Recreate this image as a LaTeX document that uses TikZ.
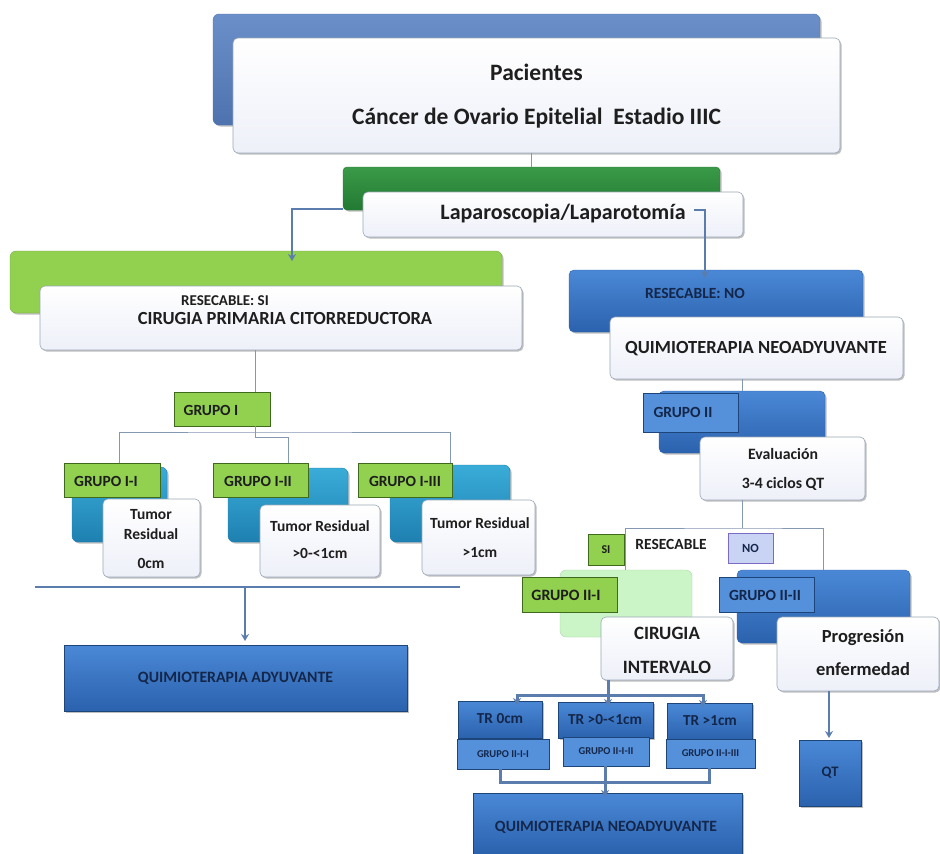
\documentclass[tikz,border=0pt]{standalone}
\usepackage{fontspec}
\setmainfont{Carlito}
\usetikzlibrary{arrows.meta,shadows,calc}
\definecolor{topT}{HTML}{6B90C9}
\definecolor{topB}{HTML}{4D72AD}
\definecolor{blT}{HTML}{4A88D6}
\definecolor{blB}{HTML}{2B62AE}
\definecolor{blL}{HTML}{5590DA}
\definecolor{grT}{HTML}{3A9A48}
\definecolor{grB}{HTML}{237A33}
\definecolor{lime}{HTML}{92D050}
\definecolor{limeD}{HTML}{3F6A1E}
\definecolor{tealT}{HTML}{3AACD8}
\definecolor{tealB}{HTML}{1E80B0}
\definecolor{lgreen}{HTML}{CBF5C6}
\definecolor{wbord}{HTML}{9AA8B8}
\definecolor{wB}{HTML}{EEF0F9}
\definecolor{lav}{HTML}{C9D3F3}
\definecolor{lavD}{HTML}{7A6BC6}
\definecolor{conn}{HTML}{5A7DAD}
\definecolor{tree}{HTML}{8598B2}
\definecolor{navy}{HTML}{14274A}
\definecolor{ink}{HTML}{1E1E1E}
\newcommand\fsz[2]{\fontsize{#1}{#2}\selectfont}
\tikzset{
 base/.style={rectangle, anchor=north west, inner sep=0pt, outer sep=0pt},
 shd/.style={drop shadow={shadow xshift=1.5pt, shadow yshift=-1.5pt, opacity=0.25, fill=black}},
 topbk/.style={base, rounded corners=6pt, top color=topT, bottom color=topB, draw=topB, shd},
 whitebx/.style={base, rounded corners=5pt, top color=white, bottom color=wB, draw=wbord, line width=0.6pt, shd},
 greenbk/.style={base, rounded corners=4pt, top color=grT, bottom color=grB, draw=grB, shd},
 limebk/.style={base, rounded corners=6pt, fill=lime, draw=lime!80!black, line width=0.3pt, shd},
 limetag/.style={base, fill=lime, draw=limeD, line width=0.8pt},
 tealbk/.style={base, rounded corners=6pt, top color=tealT, bottom color=tealB, draw=tealB, shd},
 bluebk/.style={base, rounded corners=5pt, top color=blT, bottom color=blB, draw=blB, shd},
 blueflat/.style={base, top color=blT, bottom color=blB, draw=blB!70!black, shd},
 bluetag/.style={base, fill=blL, draw=blB!70!black, line width=0.6pt},
 lgbk/.style={base, rounded corners=6pt, fill=lgreen, draw=lgreen!85!black, line width=0.3pt},
 lavtag/.style={base, fill=lav, draw=lavD, line width=0.8pt},
 txt/.style={inner sep=0pt, text=ink, font=\bfseries},
 ntxt/.style={inner sep=0pt, text=navy, font=\bfseries},
 tline/.style={draw=tree, line width=0.7pt},
 cline/.style={draw=conn, line width=2pt},
 carrow/.style={cline, -{Stealth[length=7pt,width=8pt]}},
}
\begin{document}
\begin{tikzpicture}[x=1pt,y=-1pt]
\useasboundingbox (0,0) rectangle (940,854);
\fill[white] (0,0) rectangle (940,854);

% ---------- top ----------
\node[topbk, minimum width=607pt, minimum height=111pt] (topback) at (213,14) {};
\node[whitebx, minimum width=607pt, minimum height=115pt] (top) at (233,38) {};
\node[txt, font=\fsz{23.5}{44}\bfseries, align=center] (tTop) at ($(top.center)+(0,1)$) {Pacientes\\Cáncer de Ovario Epitelial~ Estadio IIIC};

% ---------- laparoscopia ----------
\node[greenbk, minimum width=377pt, minimum height=43pt] (lapback) at (343,167) {};
\node[whitebx, minimum width=380pt, minimum height=45pt] (lap) at (363,192) {};
\node[txt, font=\fsz{22}{26}\bfseries] (tLap) at (563,214) {Laparoscopia/Laparotomía};
\draw[tline] (top.south -| lapback.north) -- (lapback.north);

% ---------- left branch ----------
\node[limebk, minimum width=492pt, minimum height=62pt] (resiback) at (10,251) {};
\node[whitebx, minimum width=482pt, minimum height=64pt] (resi) at (40,286) {};
\node[txt, font=\fsz{15}{18}\bfseries] (tResSi) at (225,301) {RESECABLE: SI};
\node[txt, font=\fsz{18.5}{22}\bfseries] (tCPC) at (285,318) {CIRUGIA PRIMARIA CITORREDUCTORA};

\coordinate (lapL) at ($(lapback.south west)+(0,-1)$);
\coordinate (resiIn) at ($(resiback.north west)+(282,10)$);
\draw[carrow] (lapL) -| (resiIn);

\node[limetag, minimum width=96pt, minimum height=34pt] (gI) at (174,392) {};
\node[txt, font=\fsz{15.5}{18}\bfseries] (tgI) at (211,410) {GRUPO I};
\coordinate (gIin) at ($(gI.north west)+(81,0)$);
\coordinate (gIout) at ($(gI.south west)+(81,0)$);
\draw[tline] (resi.south -| gIin) -- (gIin);

% subgroups
\node[tealbk, minimum width=95pt, minimum height=75pt] (te1) at (72,467) {};
\node[tealbk, minimum width=120pt, minimum height=74pt] (te2) at (228,468) {};
\node[tealbk, minimum width=120pt, minimum height=77pt] (te3) at (390,465) {};
\node[limetag, minimum width=96pt, minimum height=34pt] (gI1) at (64,463) {};
\node[limetag, minimum width=95pt, minimum height=34pt] (gI2) at (213,463) {};
\node[limetag, minimum width=94pt, minimum height=34pt] (gI3) at (358,463) {};
\node[txt, font=\fsz{15.5}{18}\bfseries] (tgI1) at (106,481) {GRUPO I-I};
\node[txt, font=\fsz{15.5}{18}\bfseries] (tgI2) at (258,481) {GRUPO I-II};
\node[txt, font=\fsz{15.5}{18}\bfseries] (tgI3) at (405,481) {GRUPO I-III};
\node[whitebx, minimum width=97pt, minimum height=78pt] (w1) at (103,499) {};
\node[whitebx, minimum width=120pt, minimum height=72pt] (w2) at (260,505) {};
\node[whitebx, minimum width=113pt, minimum height=75pt] (w3) at (422,500) {};
\node[txt, font=\fsz{15.5}{20}\bfseries, align=center] (tw1) at (151,539) {Tumor\\Residual\\[9pt]0cm};
\node[txt, font=\fsz{15.5}{27}\bfseries, align=center] (tw2) at (320,540) {Tumor Residual\\>0-<1cm};
\node[txt, font=\fsz{15.5}{29}\bfseries, align=center] (tw3) at (480,538) {Tumor Residual\\>1cm};

\coordinate (gI1in) at ($(gI1.north west)+(55,0)$);
\coordinate (gI2in) at ($(gI2.north west)+(75,0)$);
\coordinate (gI3in) at ($(gI3.north west)+(92,0)$);
\coordinate (treeMid) at ($(gIout)+(0,6)$);
\draw[tline] (gI1in) |- (treeMid) -| (gI3in);
\draw[tline] (gIout) -- ++(0,11) -| (gI2in);

% bar and adjuvant
\coordinate (barL) at (35,587);
\coordinate (barR) at (460,587);
\coordinate (barA) at (245,587);
\draw[draw=conn, line width=2.5pt] (barL) -- (barR);
\node[blueflat, minimum width=343pt, minimum height=66pt] (qa) at (64,645) {};
\node[ntxt, font=\fsz{15.8}{18}\bfseries] (tqa) at (qa.center) {QUIMIOTERAPIA ADYUVANTE};
\draw[carrow] (barA) -- ($(qa.north -| barA)+(0,-4)$);

% ---------- right branch ----------
\node[bluebk, minimum width=294pt, minimum height=62pt] (rnoback) at (569,270) {};
\node[ntxt, font=\fsz{15.5}{18}\bfseries] (trno) at (695,293) {RESECABLE: NO};
\coordinate (lapR) at ($(lap.north west)+(331,18)$);
\coordinate (rnoIn) at ($(rnoback.north west)+(136,8)$);
\draw[carrow] (lapR) -| (rnoIn);
\node[whitebx, minimum width=293pt, minimum height=62pt] (rno) at (610,317) {};
\node[txt, font=\fsz{18.5}{22}\bfseries] (trno2) at (756,349) {QUIMIOTERAPIA NEOADYUVANTE};

\node[bluebk, minimum width=166pt, minimum height=62pt] (gIIback) at (659,391) {};
\node[bluetag, minimum width=95pt, minimum height=39pt] (gII) at (643,393) {};
\node[ntxt, font=\fsz{15.5}{18}\bfseries] (tgII) at (683,412) {GRUPO II};
\coordinate (gIIin) at ($(gIIback.north west)+(83,0)$);
\draw[tline] (rno.south -| gIIin) -- (gIIin);

\node[whitebx, minimum width=165pt, minimum height=63pt] (ev) at (700,437) {};
\node[txt, font=\fsz{15.8}{29}\bfseries, align=center] (tev) at (783,469) {Evaluación\\3-4 ciclos QT};

% decision
\node[lgbk, minimum width=132pt, minimum height=67pt] (lgback) at (560,570) {};
\node[bluebk, minimum width=173pt, minimum height=73pt] (g22back) at (737,570) {};
\coordinate (evOut) at ($(ev.south west)+(42,0)$);
\coordinate (rsplit) at ($(evOut)+(0,28)$);
\coordinate (g21in) at ($(lgback.north west)+(65,0)$);
\coordinate (g22in) at ($(g22back.north west)+(86,0)$);
\draw[tline] (evOut) -- (rsplit);
\draw[tline] (g21in) |- (rsplit) -| (g22in);
\node[limetag, minimum width=36pt, minimum height=31pt] (si) at (588,534) {};
\node[txt, font=\fsz{12}{14}\bfseries] (tsi) at (si.center) {SI};
\node[txt, font=\fsz{15.5}{18}\bfseries] (tres) at (671,544) {RESECABLE};
\node[lavtag, minimum width=45pt, minimum height=30pt] (no) at (728,533) {};
\node[ntxt, font=\fsz{12.5}{14}\bfseries] (tno) at (no.center) {NO};

\node[limetag, minimum width=95pt, minimum height=35pt] (g21) at (522,577) {};
\node[txt, font=\fsz{15.8}{18}\bfseries] (tg21) at (566,595) {GRUPO II-I};
\node[whitebx, minimum width=132pt, minimum height=63pt] (ci) at (601,617) {};
\node[txt, font=\fsz{18.8}{34}\bfseries, align=center] (tci) at (667,650) {CIRUGIA\\INTERVALO};

\node[bluetag, minimum width=95pt, minimum height=35pt] (g22) at (719,577) {};
\node[ntxt, font=\fsz{15.5}{18}\bfseries] (tg22) at (765,595) {GRUPO II-II};
\node[whitebx, minimum width=162pt, minimum height=74pt] (prog) at (777,617) {};
\node[txt, font=\fsz{18.5}{33}\bfseries, align=center] (tprog) at (863,653) {Progresión\\enfermedad};

\node[blueflat, minimum width=62pt, minimum height=66pt] (qt) at (799,740) {};
\node[ntxt, font=\fsz{14.5}{17}\bfseries] (tqt) at (qt.center) {QT};
\coordinate (prOut) at ($(prog.south west)+(52,0)$);
\draw[carrow] (prOut) -- ($(qt.north -| prOut)+(0,-2)$);

% TR boxes
\node[blueflat, minimum width=84pt, minimum height=37pt] (tr0) at (458,701) {};
\node[blueflat, minimum width=95pt, minimum height=36pt] (tr1) at (558,702) {};
\node[blueflat, minimum width=85pt, minimum height=37pt] (tr2) at (667,703) {};
\node[ntxt, font=\fsz{15.3}{18}\bfseries] (ttr0) at (500,719) {TR 0cm};
\node[ntxt, font=\fsz{15.3}{18}\bfseries] (ttr1) at (605,720) {TR >0-<1cm};
\node[ntxt, font=\fsz{15.3}{18}\bfseries] (ttr2) at (710,721) {TR >1cm};
\node[bluetag, minimum width=92pt, minimum height=30pt] (s0) at (457,739) {};
\node[bluetag, minimum width=86pt, minimum height=29pt] (s1) at (563,737) {};
\node[bluetag, minimum width=89pt, minimum height=29pt] (s2) at (666,739) {};
\node[ntxt, font=\fsz{10.5}{12}\bfseries] (ts0) at (s0.center) {GRUPO II-I-I};
\node[ntxt, font=\fsz{10.5}{12}\bfseries] (ts1) at (s1.center) {GRUPO II-I-II};
\node[ntxt, font=\fsz{10.5}{12}\bfseries] (ts2) at (s2.center) {GRUPO II-I-III};

\coordinate (ciOut) at ($(ci.south west)+(7,0)$);
\coordinate (ciSplit) at ($(ciOut)+(0,15)$);
\coordinate (tr0in) at ($(tr0.north west)+(59,4)$);
\coordinate (tr2in) at ($(tr2.north west)+(36,4)$);
\draw[cline, line width=3pt] (ciOut) -- (ciSplit);
\draw[carrow, line width=3pt] (ciSplit) -| (tr0in);
\draw[carrow, line width=3pt] (ciSplit) -| (tr2in);
\draw[carrow, line width=3pt] (ciSplit) -- ($(tr1.north -| ciSplit)+(0,4)$);

\node[blueflat, minimum width=269pt, minimum height=61pt] (qn) at (473,793) {};
\node[ntxt, font=\fsz{15.7}{18}\bfseries] (tqn) at (606,827) {QUIMIOTERAPIA NEOADYUVANTE};
\coordinate (s0out) at ($(s0.south west)+(43,0)$);
\coordinate (s1out) at ($(s1.south west)+(42,0)$);
\coordinate (s2out) at ($(s2.south west)+(43,0)$);
\coordinate (bjoin) at (s1out |- 0,782);
\draw[cline, line width=3pt] (s0out) |- (bjoin) -| (s2out);
\draw[cline, line width=3pt] (s1out) -- (bjoin);
\draw[carrow, line width=3pt] (bjoin) -- ($(qn.north -| bjoin)+(0,4)$);
\end{tikzpicture}
\end{document}
